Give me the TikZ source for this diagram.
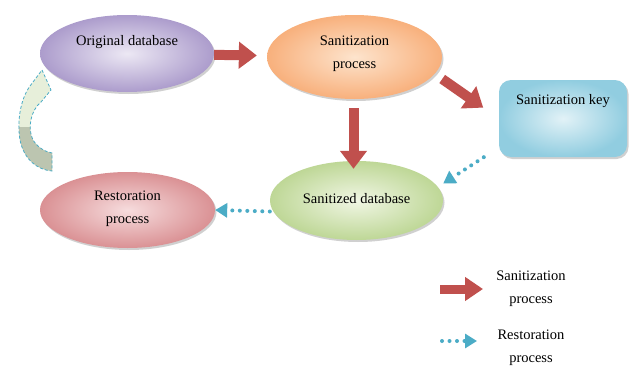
\documentclass[tikz,border=0pt]{standalone}
\usepackage{fontspec}
\setmainfont{Liberation Serif}
\usetikzlibrary{shapes.geometric,arrows.meta,shadows}
\definecolor{redarrow}{HTML}{C0504D}
\definecolor{cyanarrow}{HTML}{4BACC6}
\begin{document}
\begin{tikzpicture}[x=1pt,y=-1pt,
  every node/.style={font=\fontsize{14.5}{23}\selectfont, align=center, text=black},
  oval/.style={ellipse, inner sep=0pt, draw=none,
     drop shadow={shadow xshift=1.5pt, shadow yshift=-2pt, opacity=0.3, fill=black!60}},
  purpleoval/.style={oval, inner color={rgb,255:red,236;green,232;blue,244}, outer color={rgb,255:red,172;green,156;blue,204}},
  orangeoval/.style={oval, inner color={rgb,255:red,253;green,228;blue,205}, outer color={rgb,255:red,248;green,176;blue,124}},
  greenoval/.style={oval, inner color={rgb,255:red,240;green,246;blue,228}, outer color={rgb,255:red,190;green,215;blue,150}},
  pinkoval/.style={oval, inner color={rgb,255:red,246;green,220;blue,221}, outer color={rgb,255:red,218;green,145;blue,148}},
  keybox/.style={rectangle, rounded corners=12pt, inner sep=0pt, draw=none,
     inner color={rgb,255:red,226;green,242;blue,247}, outer color={rgb,255:red,145;green,205;blue,224}},
  redarr/.style={draw=redarrow, line width=10pt, -{Triangle[length=18pt,width=26pt]}},
  cyanarr/.style={draw=cyanarrow, line width=4pt, line cap=round, dash pattern=on 0pt off 7.5pt,
     -{Triangle[length=12pt,width=14pt]}}
]
\useasboundingbox[fill=white] (0,0) rectangle (630,367);

% nodes
\node[purpleoval, minimum width=174pt, minimum height=77pt,
  label={[yshift=11pt]center:Original database}] (orig) at (127,53.5) {};
\node[orangeoval, minimum width=175pt, minimum height=84pt,
  label={[yshift=3.5pt]center:Sanitization\\process}] (sanproc) at (354.5,57) {};
\node[keybox, minimum width=128pt, minimum height=77pt,
  drop shadow={shadow xshift=1.5pt, shadow yshift=-2pt, opacity=0.3, fill=black!60},
  label={[yshift=17.5pt]center:Sanitization key}] (key) at (563,118.5) {};
\node[greenoval, minimum width=173pt, minimum height=79pt,
  label={[yshift=2pt]center:Sanitized database}] (sanitized) at (356.5,200.5) {};
\node[pinkoval, minimum width=175pt, minimum height=76pt,
  label={[yshift=1pt]center:Restoration\\process}] (restore) at (127.5,210) {};

% connectors
\draw[redarr, shorten >=10pt] (orig) -- (sanproc);
\draw[redarr, shorten <=9pt, shorten >=-8pt] ([xshift=-1pt]sanproc.south) -- ([xshift=-1pt]sanproc.south |- sanitized.north);
\draw[redarr, shorten >=19pt] ([yshift=-22pt]sanproc.east) -- (key.west);
\draw[cyanarr] ([xshift=-15pt]key.south west) -- ([yshift=17pt]sanitized.east);
\draw[cyanarr] ([yshift=-11pt]sanitized.west) -- (restore.east);

% curved return arrow
\fill[color={rgb,255:red,231;green,239;blue,218}]
  (42,70) -- (51,90) -- (41,102) .. controls (31,110) and (27,128) .. (33,140)
  .. controls (38,148) and (46,152) .. (52,153) -- (52,171)
  .. controls (38,170) and (24,160) .. (20,140)
  .. controls (17,122) and (20,100) .. (30,86) -- cycle;
\begin{scope}
\clip (42,70) -- (51,90) -- (41,102) .. controls (31,110) and (27,128) .. (33,140)
  .. controls (38,148) and (46,152) .. (52,153) -- (52,171)
  .. controls (38,170) and (24,160) .. (20,140)
  .. controls (17,122) and (20,100) .. (30,86) -- cycle;
\fill[color={rgb,255:red,188;green,197;blue,176}] (0,127) rectangle (60,180);
\end{scope}
\draw[cyanarrow, line width=0.8pt, dash pattern=on 3pt off 2pt]
  (42,70) -- (51,90) -- (41,102) .. controls (31,110) and (27,128) .. (33,140)
  .. controls (38,148) and (46,152) .. (52,153) -- (52,171)
  .. controls (38,170) and (24,160) .. (20,140)
  .. controls (17,122) and (20,100) .. (30,86) -- cycle;

% legend
\coordinate (l1a) at (440,289);
\coordinate (l1b) at (483,289);
\coordinate (l2a) at (442,341);
\coordinate (l2b) at (477,341);
\draw[redarr, line width=9pt, -{Triangle[length=18pt,width=23pt]}] (l1a) -- (l1b);
\draw[cyanarr] (l2a) -- (l2b);
\node (legsan) at (531,289) {Sanitization\\process};
\node (legres) at (531,348) {Restoration\\process};
\end{tikzpicture}
\end{document}
